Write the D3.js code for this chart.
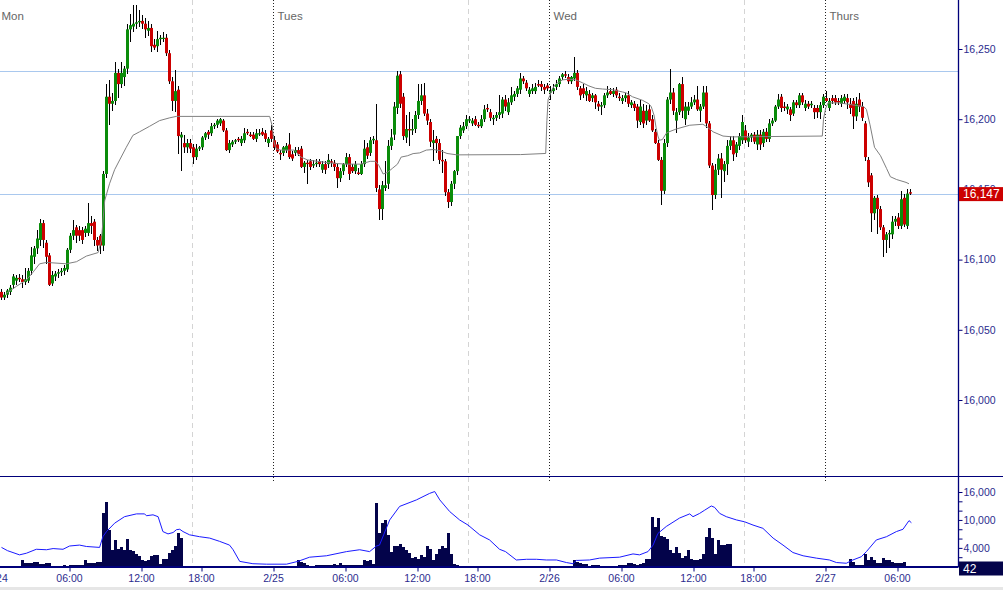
<!DOCTYPE html>
<html><head><meta charset="utf-8">
<script src="https://cdn.jsdelivr.net/npm/d3@7"></script>
<style>body{margin:0;background:#fff;overflow:hidden}svg{display:block;font-family:"Liberation Sans",Arial,sans-serif}</style>
</head><body><svg id="c" width="1003" height="590"></svg>
<script>
// ---- DATA: 15-minute bars [open, high, low, close] ----
const barsMon = [
[16077,16079,16071,16073],[16073,16077,16071,16075],[16075,16079,16073,16078],[16077,16082,16075,16080],
[16082,16090,16079,16088],[16085,16089,16082,16087],[16087,16090,16084,16086],[16086,16089,16080,16084],
[16084,16094,16082,16086],[16085,16094,16083,16092],[16092,16109,16089,16103],[16102,16110,16097,16108],
[16108,16121,16104,16115],[16114,16129,16110,16126],[16126,16128,16108,16114],[16112,16114,16097,16102],
[16103,16105,16081,16082],[16083,16092,16081,16089],[16088,16092,16085,16090],[16090,16093,16087,16091],
[16091,16094,16088,16092],[16092,16096,16089,16094],[16093,16108,16091,16107],[16107,16119,16105,16117],
[16117,16128,16114,16121],[16123,16125,16112,16117],[16121,16124,16113,16117],[16121,16123,16111,16114],
[16119,16124,16116,16122],[16119,16140,16117,16126],[16126,16131,16118,16124],[16127,16129,16110,16114],
[16114,16116,16106,16110],[16117,16118,16104,16110],[16110,16163,16106,16161],[16161,16225,16158,16216],
[16216,16228,16196,16211],[16211,16219,16206,16213],[16213,16241,16210,16233],[16233,16236,16215,16225],
[16225,16241,16222,16233],[16230,16238,16224,16236],[16236,16268,16232,16264],[16264,16275,16255,16267],
[16266,16281,16262,16268],[16268,16281,16264,16269],[16269,16278,16266,16270],[16270,16274,16264,16268],
[16268,16272,16258,16264],[16263,16270,16259,16265],[16265,16268,16248,16252],[16253,16257,16249,16251],
[16252,16263,16248,16257],[16257,16260,16253,16258],[16258,16262,16255,16258],[16258,16261,16245,16247],
[16247,16249,16225,16227],[16227,16230,16206,16213],[16213,16235,16205,16220],[16221,16224,16175,16188],
[16187,16191,16163,16189],[16183,16189,16176,16180],[16180,16186,16176,16183],[16183,16186,16176,16179],
[16180,16182,16168,16173],[16173,16182,16171,16179],[16179,16181,16177,16180],[16180,16188,16178,16187],
[16187,16191,16185,16190],[16191,16192,16186,16189],[16190,16197,16188,16195],[16195,16197,16193,16196],
[16196,16200,16194,16199],[16197,16201,16195,16200],[16199,16200,16191,16192],[16192,16194,16177,16178],
[16178,16185,16176,16183],[16182,16185,16180,16184],[16184,16186,16182,16185],[16186,16187,16184,16185],
[16183,16188,16181,16186],[16185,16194,16183,16190],[16191,16193,16189,16190],[16189,16191,16187,16188],
[16189,16191,16185,16186],[16186,16193,16184,16190],[16190,16193,16188,16190],[16191,16194,16188,16189],
[16190,16192,16184,16186],[16183,16187,16180,16186],[16192,16196,16184,16186]
];
const barsTue = [
[16185,16188,16178,16180],[16182,16184,16176,16177],[16176,16178,16171,16175],[16176,16181,16174,16180],
[16178,16183,16176,16181],[16182,16190,16172,16173],[16175,16177,16170,16172],[16176,16180,16174,16178],
[16178,16180,16174,16175],[16179,16181,16165,16166],[16166,16170,16162,16169],[16169,16171,16154,16168],
[16170,16172,16164,16166],[16167,16171,16165,16168],[16168,16172,16166,16169],[16170,16172,16166,16168],
[16164,16170,16162,16168],[16168,16170,16161,16164],[16168,16175,16165,16171],[16170,16172,16166,16169],
[16169,16171,16163,16166],[16166,16168,16151,16158],[16158,16165,16155,16163],[16163,16169,16160,16168],
[16168,16176,16166,16173],[16173,16175,16157,16161],[16166,16168,16162,16163],[16163,16170,16161,16168],
[16162,16165,16160,16161],[16161,16170,16160,16168],[16168,16185,16166,16179],[16180,16183,16172,16174],
[16176,16187,16174,16185],[16185,16188,16182,16186],[16185,16211,16148,16151],[16150,16153,16128,16136],
[16136,16156,16128,16153],[16151,16170,16149,16153],[16154,16185,16150,16181],[16181,16193,16178,16187],
[16189,16212,16185,16209],[16208,16234,16204,16231],[16232,16234,16208,16211],[16216,16219,16185,16188],
[16187,16203,16183,16193],[16193,16205,16181,16192],[16192,16200,16189,16193],[16193,16206,16190,16203],
[16203,16225,16200,16213],[16213,16225,16210,16217],[16217,16226,16202,16204],[16204,16207,16196,16199],
[16198,16200,16180,16184],[16183,16192,16170,16185],[16186,16188,16176,16183],[16183,16186,16168,16171],
[16171,16178,16162,16170],[16170,16172,16145,16148],[16148,16150,16137,16141],[16141,16156,16138,16154],
[16154,16164,16150,16163],[16163,16188,16160,16188],[16188,16196,16186,16194],[16192,16198,16190,16195],
[16195,16203,16193,16200],[16199,16202,16197,16200],[16197,16201,16195,16199],[16200,16202,16195,16196],
[16196,16198,16194,16195],[16195,16203,16194,16200],[16200,16210,16198,16207],[16208,16211,16205,16207],
[16205,16207,16199,16201],[16200,16203,16196,16201],[16201,16205,16199,16203],[16203,16217,16200,16205],
[16204,16216,16201,16214],[16214,16217,16206,16209],[16205,16215,16203,16212],[16212,16223,16210,16217],
[16216,16220,16213,16218],[16218,16224,16216,16222],[16221,16233,16218,16229],[16229,16231,16225,16227],
[16226,16228,16220,16222],[16218,16223,16216,16221],[16220,16225,16218,16222],[16220,16226,16218,16223],
[16225,16228,16223,16224],[16225,16227,16220,16223],[16223,16225,16218,16221],[16224,16226,16220,16222]
];
const barsWed = [
[16219,16224,16214,16220],[16220,16225,16218,16222],[16223,16228,16221,16225],[16225,16231,16223,16229],
[16230,16233,16228,16232],[16232,16234,16229,16231],[16230,16232,16225,16227],[16227,16231,16225,16230],
[16229,16244,16227,16233],[16233,16235,16221,16223],[16222,16224,16214,16217],[16222,16225,16215,16218],
[16217,16223,16213,16220],[16218,16221,16212,16213],[16215,16219,16212,16217],[16217,16218,16207,16212],
[16211,16213,16206,16209],[16209,16212,16203,16210],[16210,16219,16208,16217],[16217,16224,16215,16219],
[16220,16222,16217,16218],[16218,16222,16216,16220],[16221,16223,16215,16217],[16216,16219,16213,16215],
[16213,16217,16211,16215],[16215,16219,16212,16217],[16217,16220,16209,16211],[16210,16214,16208,16212],
[16211,16213,16206,16208],[16209,16211,16194,16199],[16198,16214,16196,16209],[16206,16211,16194,16197],
[16199,16210,16196,16206],[16207,16210,16198,16199],[16200,16203,16191,16192],[16191,16193,16182,16183],
[16183,16185,16170,16171],[16171,16173,16139,16149],[16149,16186,16147,16183],[16183,16216,16180,16214],
[16214,16236,16211,16219],[16219,16222,16203,16206],[16199,16208,16190,16205],[16205,16226,16203,16225],
[16225,16230,16201,16206],[16200,16212,16196,16209],[16206,16212,16203,16209],[16209,16216,16207,16212],
[16212,16217,16210,16214],[16214,16224,16206,16207],[16206,16211,16198,16209],[16209,16224,16207,16219],
[16219,16224,16194,16197],[16197,16199,16165,16167],[16167,16169,16135,16146],[16146,16168,16143,16164],
[16164,16175,16160,16172],[16172,16176,16144,16164],[16163,16170,16155,16168],[16168,16185,16160,16181],
[16181,16188,16178,16185],[16185,16188,16170,16175],[16176,16184,16173,16182],[16181,16190,16178,16188],
[16185,16203,16182,16198],[16192,16196,16183,16185],[16184,16190,16180,16187],[16187,16190,16184,16189],
[16189,16191,16182,16184],[16182,16192,16178,16189],[16189,16192,16178,16182],[16183,16193,16180,16191],
[16191,16194,16184,16186],[16186,16200,16184,16197],[16197,16201,16195,16199],[16199,16210,16198,16209],
[16209,16218,16207,16214],[16216,16218,16205,16208],[16209,16212,16206,16208],[16207,16211,16204,16209],
[16207,16209,16199,16203],[16204,16214,16202,16212],[16212,16214,16208,16210],[16210,16219,16208,16217],
[16217,16219,16210,16212],[16208,16214,16206,16211],[16211,16213,16207,16209],[16210,16213,16208,16211],
[16208,16210,16200,16205],[16208,16210,16201,16205],[16205,16212,16200,16210],[16210,16218,16208,16216]
];
const barsThu = [
[16215,16220,16212,16213],[16208,16215,16206,16213],[16215,16217,16211,16213],[16215,16217,16210,16212],
[16213,16215,16210,16212],[16211,16217,16209,16215],[16213,16218,16211,16216],[16215,16218,16207,16212],
[16211,16215,16204,16208],[16213,16215,16193,16202],[16202,16216,16199,16211],[16214,16219,16205,16209],
[16209,16212,16199,16201],[16197,16199,16170,16173],[16171,16173,16152,16155],[16160,16162,16120,16133],
[16133,16145,16128,16144],[16144,16146,16118,16136],[16136,16138,16121,16123],[16123,16125,16102,16114],
[16114,16120,16105,16118],[16118,16121,16108,16119],[16118,16131,16115,16127],[16127,16131,16124,16129],
[16130,16133,16122,16124],[16124,16149,16122,16143],[16144,16147,16123,16125],[16124,16150,16122,16147],
[16148,16150,16146,16147]
];
// ---- DATA: volume per bar ----
const volMon = [150,120,180,140,200,160,130,1300,850,700,700,1000,900,570,570,700,700,150,180,140,160,350,150,300,280,320,300,400,1300,700,700,800,900,1000,
11400,13850,7850,3600,5600,3700,4100,3600,5900,3600,3400,2700,2300,1300,1100,1400,2300,2500,2400,600,1600,1600,3000,3600,4400,7100,6100,
120,90,60,80,100,70,60,50,40,60,50,40,45,30,60,40,35,30,40,30,50,30,25,35,30,40,30,25,40,50];
const volTue = [80,60,50,70,60,90,100,80,1300,1000,850,350,200,200,250,300,300,300,300,300,570,300,700,300,300,300,300,300,300,300,1400,1100,1300,600,
13700,7300,9300,10000,6800,3200,4400,4400,4900,4100,3600,2900,1800,2100,1600,2500,2000,4400,3700,1400,2700,3700,4300,3900,7300,2700,500,
300,200,150,100,80,60,50,40,60,50,40,60,40,30,50,40,30,50,40,30,40,150,40,30,40,30,50,40,30,40,50];
const volWed = [60,50,80,60,70,90,100,150,1400,1000,850,600,570,200,300,300,300,200,150,150,200,150,200,300,300,300,700,700,570,400,570,850,1600,1600,
10600,8400,10400,6600,6300,5900,3600,3000,4100,3000,1800,2300,3600,1600,1400,1400,1600,2700,6400,8200,6100,2700,5700,4600,4600,4900,4900,
200,120,80,60,50,60,40,50,40,30,40,50,30,40,30,30,40,30,50,40,30,30,40,30,50,30,40,30,30,40,60];
const volThu = [80,60,50,70,80,60,90,120,1600,1000,300,300,400,2700,1400,2000,1400,850,850,1800,1400,1300,1000,850,700,850,900,150,42];
// ---- DATA: overlay lines [bar index, value] ----
const vwmaLine = [[1.6,16076],[5,16081],[8.3,16085.5],[10.5,16091],[12.7,16097],[15,16098],[21.6,16097],[25,16098.5],[28.3,16102.5],[32.2,16105],[33.3,16114],[34.4,16142],[36,16154],[37.7,16164],[39.4,16171],[41.6,16180],[43.8,16188.5],[46,16191],[49.4,16195],[52.7,16199],[56.1,16201],[58.3,16202],[89.4,16202],[90.3,16194.5],[90.7,16185],[91.5,16179],[93,16178],[97.6,16178],[99.8,16173],[102,16171],[105.3,16170],[111,16168.5],[115,16168],[119.6,16168],[122.9,16170],[124.7,16170],[125.8,16167],[127.2,16161],[128.6,16162],[130.3,16165],[132,16168],[133.2,16173],[135.4,16174],[137.2,16175.5],[139.4,16176],[141.6,16178],[144,16178.4],[146.3,16177.5],[148.5,16175.6],[151.8,16174.6],[173,16174.8],[181.4,16175.6],[181.8,16199],[182.2,16214],[182.8,16217],[183.6,16221.6],[184.7,16225],[187,16228],[189.2,16228.5],[191.4,16228],[193.6,16226],[195.8,16223.7],[198,16222],[200.3,16221.5],[203.6,16221],[207,16219.4],[208.3,16218.7],[210.3,16216],[213.6,16213.5],[215.8,16211],[216.6,16208.8],[217.5,16203],[218.2,16194],[218.8,16188],[219.3,16185],[220.3,16185.5],[221.6,16190],[222.5,16191],[224.9,16193],[229.4,16195.7],[233.8,16196.4],[235.2,16194.5],[237.2,16191],[240.5,16188],[243.8,16187.4],[273.6,16188],[274,16200],[274.7,16207.6],[275.5,16211.6],[279.4,16211.6],[287.4,16209],[288.3,16207],[289.5,16196],[291,16180],[293,16174],[295,16165],[296.3,16159],[298.4,16157],[301.5,16155],[302.5,16154]];
const volAvgLine = [[0,4100],[2,3400],[6,2500],[8.3,2850],[11.6,3700],[15,3600],[17.2,3850],[20.5,3700],[22.7,4400],[26,4600],[28.3,4300],[32.7,4100],[33.8,6400],[35,7500],[37.7,9300],[41,10700],[45,11300],[47.7,11300],[48.3,10900],[50.5,11100],[52.2,10700],[53.8,7500],[55.5,7000],[57.2,7300],[58.3,7900],[59.4,8000],[60.5,7500],[62.7,6800],[66,6400],[69.4,6100],[72.7,5400],[76,4600],[77.2,3600],[79.4,1100],[83.8,600],[88.3,500],[95,500],[98.8,1100],[102.7,2000],[108.3,2300],[115,3200],[119.4,3600],[122.7,3200],[125,4400],[126,4600],[129.4,10000],[132.7,12900],[138.3,14300],[142.7,15700],[144.4,16100],[146.1,14300],[149.4,11800],[152.7,10000],[155.5,8900],[159.4,6800],[162.7,5700],[166,3700],[168,3200],[171.6,1400],[175,1550],[178.3,1550],[181.6,1400],[185,1400],[188.3,850],[190.5,600],[191.6,1300],[196,1400],[199.4,1800],[206,2000],[210.5,2700],[212.7,2500],[215.5,3200],[217.2,4600],[218.8,7100],[221.6,8600],[226,10400],[229.4,11300],[230.5,10700],[232.7,11400],[234.4,12100],[236.6,13000],[237.7,12700],[239.4,11400],[241.6,10700],[245,10000],[247.7,9600],[250.5,8900],[253.8,8200],[257.2,6100],[260.5,4600],[263.8,3000],[267.2,2300],[271.6,1800],[276,1400],[278.3,850],[281.6,700],[283.8,1400],[286.6,2100],[288.3,3200],[291.6,5700],[295,6400],[298.3,7500],[300.5,8000],[302.5,9850],[303.3,9400]];
// ---- DATA: axes ----
const priceTicks = [16000,16050,16100,16150,16200,16250];
const volTicksMajor = [4000,10000,16000];
const volTicksMinor = [2000,6000,8000,12000,14000];
const timeTickIdx = [-1,23,47,67,91,115,139,159,183,207,231,251,275,299];
const timeTickLabels = ["2/24","06:00","12:00","18:00","2/25","06:00","12:00","18:00","2/26","06:00","12:00","18:00","2/27","06:00"];
const dayIdx = [-1,91,183,275];
const dayLabels = ["Mon","Tues","Wed","Thurs"];
const sessionIdx = [64.1,156.1,248.1];
const refLevels = [16234,16147];
const lastPrice = 16147, lastVol = 42;

// ---- CHART ----
const W = 1003, H = 590, PR = 958, PB = 476, VB = 566.5;
const axisColor = "#00007a", textColor = "#2b2b8e";
const up = "#0a8c0a", dn = "#cc0000";
const bars = barsMon.concat(barsTue, barsWed, barsThu).map((d,i)=>({i,o:d[0],h:d[1],l:d[2],c:d[3]}));
const vols = volMon.concat(volTue, volWed, volThu);

const x = d3.scaleLinear().domain([0,91]).range([0,273]);
const y = d3.scaleLinear().domain([16000,16250]).range([400,49]);
const yv = d3.scaleLinear().domain([0,16000]).range([VB,492]);

const svg = d3.select("#c");
svg.append("rect").attr("width",W).attr("height",H).attr("fill","#fff");
const defs = svg.append("defs");
defs.append("clipPath").attr("id","pclip").append("rect").attr("x",0).attr("y",0).attr("width",PR).attr("height",PB);
defs.append("clipPath").attr("id","vclip").append("rect").attr("x",0).attr("y",PB).attr("width",PR).attr("height",VB-PB);

// session dashed lines (both panes)
svg.append("g").selectAll("line").data(sessionIdx).join("line")
  .attr("x1",d=>Math.round(x(d))+0.5).attr("x2",d=>Math.round(x(d))+0.5)
  .attr("y1",0).attr("y2",VB).attr("stroke","#d4d4d4").attr("stroke-dasharray","5,4");
// day dotted lines (price pane)
svg.append("g").selectAll("line").data(dayIdx.slice(1)).join("line")
  .attr("x1",d=>Math.round(x(d))+0.5).attr("x2",d=>Math.round(x(d))+0.5)
  .attr("y1",0).attr("y2",PB).attr("stroke","#222").attr("stroke-dasharray","1,2");
svg.append("g").selectAll("line").data(dayIdx.slice(1)).join("line")
  .attr("x1",d=>Math.round(x(d))+0.5).attr("x2",d=>Math.round(x(d))+0.5)
  .attr("y1",PB+1).attr("y2",PB+5).attr("stroke","#222").attr("stroke-dasharray","1,2");
// day labels
svg.append("g").selectAll("text").data(dayLabels).join("text")
  .attr("x",(d,k)=>x(dayIdx[k])+4.5).attr("y",20).attr("fill","#666").attr("font-size","11.5px").text(d=>d);
// reference horizontal levels
svg.append("g").selectAll("line").data(refLevels).join("line")
  .attr("x1",0).attr("x2",PR).attr("y1",d=>Math.round(y(d))+0.5).attr("y2",d=>Math.round(y(d))+0.5)
  .attr("stroke","#a9c8ee").attr("stroke-width",1);

// candles
const cg = svg.append("g").attr("clip-path","url(#pclip)");
cg.selectAll("line.w").data(bars).join("line").attr("class","w")
  .attr("x1",d=>x(d.i)+1.5).attr("x2",d=>x(d.i)+1.5)
  .attr("y1",d=>y(d.h)).attr("y2",d=>y(d.l)).attr("stroke","#000").attr("stroke-width",1)
  .attr("shape-rendering","crispEdges");
cg.selectAll("rect.b").data(bars).join("rect").attr("class","b")
  .attr("x",d=>x(d.i)).attr("width",3)
  .attr("y",d=>Math.min(y(d.o),y(d.c)))
  .attr("height",d=>Math.max(1.2,Math.abs(y(d.o)-y(d.c))))
  .attr("fill",d=>d.c>=d.o?up:dn);

// vwma line
cg.append("path").datum(vwmaLine)
  .attr("d",d3.line().x(d=>x(d[0])+1.5).y(d=>y(d[1])))
  .attr("fill","none").attr("stroke","#808080").attr("stroke-width",1);

// volume bars
const vg = svg.append("g").attr("clip-path","url(#vclip)");
vg.selectAll("rect").data(vols).join("rect")
  .attr("x",(d,i)=>x(i)).attr("width",3)
  .attr("y",d=>yv(d)).attr("height",d=>VB-yv(d))
  .attr("fill","#03034a").attr("shape-rendering","crispEdges");
vg.append("path").datum(volAvgLine)
  .attr("d",d3.line().x(d=>x(d[0])+1.5).y(d=>yv(d[1])))
  .attr("fill","none").attr("stroke","#1a1aff").attr("stroke-width",1);

// pane frames
svg.append("line").attr("x1",0).attr("x2",W).attr("y1",PB+0.5).attr("y2",PB+0.5).attr("stroke",axisColor).attr("stroke-width",1.2);
svg.append("line").attr("x1",0).attr("x2",PR).attr("y1",VB+0.5).attr("y2",VB+0.5).attr("stroke",axisColor).attr("stroke-width",2);
svg.append("line").attr("x1",PR+0.5).attr("x2",PR+0.5).attr("y1",0).attr("y2",VB+1).attr("stroke",axisColor).attr("stroke-width",1.3);

// price axis
const pa = svg.append("g").attr("transform",`translate(${PR+0.5},0)`)
  .call(d3.axisRight(y).tickValues(priceTicks).tickFormat(d3.format(",")).tickSize(4).tickPadding(1));
pa.select(".domain").remove();
pa.selectAll("line").attr("stroke",axisColor);
pa.selectAll("text").attr("fill",textColor).attr("font-size","10.5px").attr("font-family","Liberation Sans, Arial, sans-serif");

// volume axis
const va = svg.append("g").attr("transform",`translate(${PR+0.5},0)`)
  .call(d3.axisRight(yv).tickValues(volTicksMajor).tickFormat(d3.format(",")).tickSize(4).tickPadding(1));
va.select(".domain").remove();
va.selectAll("line").attr("stroke",axisColor);
va.selectAll("text").attr("fill",textColor).attr("font-size","10.5px").attr("font-family","Liberation Sans, Arial, sans-serif");
const vm = svg.append("g").attr("transform",`translate(${PR+0.5},0)`)
  .call(d3.axisRight(yv).tickValues(volTicksMinor).tickFormat("").tickSize(4));
vm.select(".domain").remove();
vm.selectAll("line").attr("stroke",axisColor);

// time axis
const ta = svg.append("g").attr("transform",`translate(0,${VB+1})`)
  .call(d3.axisBottom(x).tickValues(timeTickIdx).tickFormat((d,k)=>timeTickLabels[k]).tickSize(4).tickPadding(3));
ta.select(".domain").remove();
ta.selectAll("line").attr("stroke",axisColor).attr("transform","translate(0.5,0)");
ta.selectAll("text").attr("fill",textColor).attr("font-size","10.5px").attr("font-family","Liberation Sans, Arial, sans-serif");

// last price label
svg.append("rect").attr("x",PR+1).attr("y",y(lastPrice)-6.5).attr("width",W-PR-1).attr("height",14).attr("fill","#cc0000");
svg.append("text").attr("x",PR+5).attr("y",y(lastPrice)+4.5).attr("fill","#fff").attr("font-size","12px").text(d3.format(",")(lastPrice));
// last volume label
svg.append("rect").attr("x",PR+1).attr("y",VB-5).attr("width",W-PR-1).attr("height",14).attr("fill","#03034a");
svg.append("text").attr("x",PR+5).attr("y",VB+6).attr("fill","#fff").attr("font-size","12px").text(lastVol);

// bottom strip
svg.append("rect").attr("x",0).attr("y",587).attr("width",W).attr("height",3).attr("fill","#e6e6e6");
</script></body></html>
